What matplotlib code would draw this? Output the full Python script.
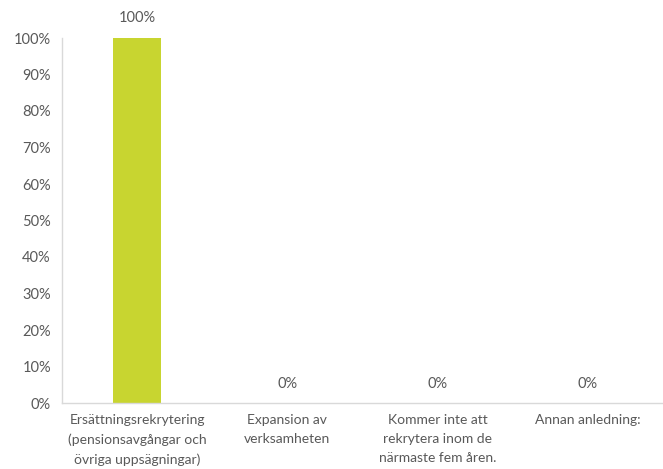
import matplotlib
matplotlib.use("Agg")
import matplotlib.pyplot as plt
from matplotlib.ticker import PercentFormatter

categories = [
    "Ersättningsrekrytering\n(pensionsavgångar och\növriga uppsägningar)",
    "Expansion av\nverksamheten",
    "Kommer inte att\nrekrytera inom de\nnärmaste fem åren.",
    "Annan anledning:",
]
values = [100, 0, 0, 0]
yticks = list(range(0, 101, 10))

text_color = "#595959"
bar_color = "#C8D530"
plt.rcParams["font.family"] = ["Lato", "DejaVu Sans"]

fig = plt.figure(figsize=(6.63, 4.69), dpi=100)
ax = fig.add_axes([62 / 663, 1 - 403 / 469, 601 / 663, 365 / 469])

x = range(len(categories))
ax.bar(x, values, width=0.32, color=bar_color, zorder=2)
for xi, v in zip(x, values):
    ax.text(xi, v + 3.6 if v > 0 else 3.2, f"{v}%", ha="center", va="bottom",
            fontsize=10.5, color=text_color)

ax.set_xlim(-0.5, len(categories) - 0.5)
ax.set_ylim(0, 100)
ax.set_yticks(yticks)
ax.yaxis.set_major_formatter(PercentFormatter(decimals=0))
ax.set_xticks(list(x))
ax.set_xticklabels(categories, fontsize=10, color=text_color, linespacing=1.7)
ax.tick_params(axis="y", labelsize=10.5, labelcolor=text_color, length=0, pad=8)
ax.tick_params(axis="x", length=0, pad=8)

for side in ("top", "right"):
    ax.spines[side].set_visible(False)
for side in ("left", "bottom"):
    ax.spines[side].set_color("#D9D9D9")
    ax.spines[side].set_linewidth(1.0)

fig.savefig("out.png", dpi=100)
